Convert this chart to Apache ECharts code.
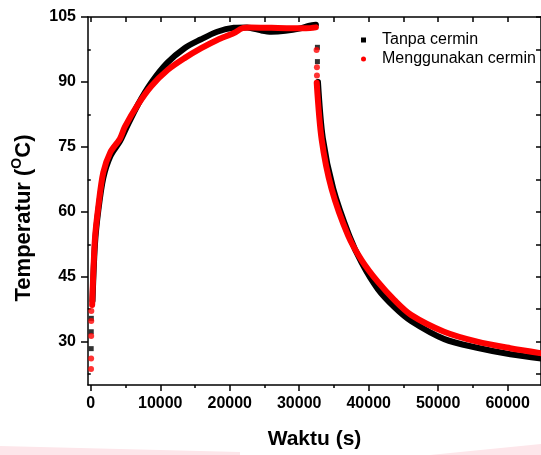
<!DOCTYPE html>
<html>
<head>
    <meta charset="UTF-8">
    <title>Temperatur vs Waktu</title>
    <script src="https://cdn.jsdelivr.net/npm/echarts@6/dist/echarts.min.js"></script>
    <style>
        html, body { margin: 0; padding: 0; background: #fff; }
    </style>
</head>
<body>
<div id="chart" style="width: 541px;height:455px;"></div>

<script type="text/javascript">
    // tick positions
    var xLabels = [0, 10000, 20000, 30000, 40000, 50000, 60000];
    var xMinor = [5000, 15000, 25000, 35000, 45000, 55000];
    var yLabels = [30, 45, 60, 75, 90, 105];
    var yMinor = [22.5, 37.5, 52.5, 67.5, 82.5, 97.5];

    // Tanpa cermin (hitam)
    var blackHeat = [
        [250, 39.5], [600, 52.5], [1100, 60.5], [1800, 67.8], [2800, 72.8], [4200, 76.3],
        [5000, 79.0], [6800, 84.8], [8700, 89.8], [11000, 94.4], [13500, 97.8], [15800, 99.8],
        [18200, 101.6], [20600, 102.5], [22500, 102.6], [24500, 101.9], [26000, 101.6],
        [28000, 101.8], [30000, 102.3], [31500, 103.0], [32400, 103.2]
    ];
    var blackCool = [
        [32700, 90.0], [33400, 77.0], [34900, 65.3], [37200, 54.5], [39000, 48.2], [41300, 42.2],
        [43700, 38.0], [46100, 34.8], [50900, 30.6], [55600, 28.6], [60400, 27.1], [65000, 26.1]
    ];
    var blackDots = [[60, 28.4], [70, 32.3], [80, 35.4], [32620, 98.0], [32620, 94.7]];

    // Menggunakan cermin (merah)
    var redHeat = [
        [200, 38.5], [600, 53.8], [1100, 61.4], [1800, 69.1], [2800, 73.7], [4200, 76.9],
        [4900, 79.6], [6800, 84.8], [8700, 89.0], [11100, 92.8], [13500, 95.5], [15900, 97.8],
        [18200, 99.7], [20600, 101.3], [21800, 102.4], [23000, 102.6], [26000, 102.5],
        [29000, 102.4], [31000, 102.4], [32400, 102.6]
    ];
    var redCool = [
        [32520, 89.8], [33230, 76.7], [34660, 65.3], [37040, 54.5], [39000, 48.8], [41330, 43.8],
        [43710, 39.6], [46090, 36.2], [50860, 32.3], [55620, 30.0], [60370, 28.5], [65000, 27.3]
    ];
    var redDots = [[40, 23.7], [50, 26.1], [60, 31.3], [70, 34.8], [80, 37.1],
        [32500, 97.4], [32550, 93.4], [32550, 91.5]];

    var fontMain = 'Liberation Sans, Arial, sans-serif';
    var plain = function (v) { return String(v); };

    var chart = echarts.init(document.getElementById('chart'), null, {renderer: 'canvas'});

    var option = {
        backgroundColor: '#fff',
        animation: false,
        graphic: [
            {type: 'polygon', shape: {points: [[0, 446], [240, 452], [240, 455], [0, 455]]},
                style: {fill: '#fde6ea'}, z: -1},
            {type: 'polygon', shape: {points: [[430, 455], [541, 444], [541, 455]]},
                style: {fill: '#fde6ea'}, z: -1}
        ],
        grid: {left: 88, top: 17, width: 456, height: 370},
        legend: {
            orient: 'vertical',
            left: 356,
            top: 27,
            itemWidth: 5,
            itemHeight: 5,
            itemGap: 3,
            textStyle: {fontFamily: fontMain, fontSize: 16, color: '#000', padding: [0, 0, 0, 11]},
            data: [
                {name: 'Tanpa cermin', icon: 'rect'},
                {name: 'Menggunakan cermin', icon: 'circle'}
            ]
        },
        xAxis: [
            {
                type: 'value', min: -400, max: 64800, position: 'bottom',
                name: 'Waktu (s)', nameLocation: 'middle', nameGap: 44,
                nameTextStyle: {fontFamily: fontMain, fontWeight: 'bold', fontSize: 21, color: '#000'},
                axisLine: {onZero: false, lineStyle: {color: '#000', width: 1.5}},
                axisTick: {show: true, inside: false, length: 6, customValues: xLabels, lineStyle: {color: '#000', width: 1.5}},
                axisLabel: {customValues: xLabels, formatter: plain, margin: 11, fontFamily: fontMain, fontWeight: 'bold', fontSize: 16, color: '#000'},
                splitLine: {show: false}
            },
            {
                type: 'value', min: -400, max: 64800, position: 'bottom',
                axisLine: {show: false},
                axisTick: {show: true, length: 3, customValues: xMinor, lineStyle: {color: '#000', width: 1.5}},
                axisLabel: {show: false},
                splitLine: {show: false}
            },
            {
                type: 'value', min: -400, max: 64800, position: 'top',
                axisLine: {onZero: false, lineStyle: {color: '#000', width: 1.5}},
                axisTick: {show: true, inside: true, length: 5, customValues: xLabels.concat(xMinor), lineStyle: {color: '#000', width: 1.5}},
                axisLabel: {show: false},
                splitLine: {show: false}
            }
        ],
        yAxis: [
            {
                type: 'value', min: 20, max: 105, position: 'left',
                name: 'Temperatur ({s|O}C)', nameLocation: 'middle', nameGap: 46, nameRotate: 90,
                nameTextStyle: {
                    fontFamily: fontMain, fontWeight: 'bold', fontSize: 22, color: '#000', lineHeight: 28,
                    padding: [0, 34, 0, 0],
                    rich: {
                        s: {fontFamily: fontMain, fontWeight: 'bold', fontSize: 14, color: '#000', verticalAlign: 'top', lineHeight: 28}
                    }
                },
                axisLine: {onZero: false, lineStyle: {color: '#000', width: 1.5}},
                axisTick: {show: true, inside: false, length: 7, customValues: yLabels, lineStyle: {color: '#000', width: 1.5}},
                axisLabel: {customValues: yLabels, formatter: plain, margin: 12, fontFamily: fontMain, fontWeight: 'bold', fontSize: 16, color: '#000'},
                splitLine: {show: false}
            },
            {
                type: 'value', min: 20, max: 105, position: 'left',
                axisLine: {show: false},
                axisTick: {show: true, length: 3, customValues: yMinor, lineStyle: {color: '#000', width: 1.5}},
                axisLabel: {show: false},
                splitLine: {show: false}
            },
            {
                type: 'value', min: 20, max: 105, position: 'right',
                axisLine: {onZero: false, lineStyle: {color: '#000', width: 1.5}},
                axisTick: {show: true, inside: true, length: 5, customValues: yLabels.concat(yMinor), lineStyle: {color: '#000', width: 1.5}},
                axisLabel: {show: false},
                splitLine: {show: false}
            }
        ],
        series: [
            {
                name: 'Tanpa cermin', type: 'line', smooth: 0.3, showSymbol: false,
                color: '#000', lineStyle: {color: '#000', width: 6, cap: 'round'},
                data: blackHeat.concat([[null, null]], blackCool), connectNulls: false
            },
            {
                name: 'Tanpa cermin', type: 'scatter', symbol: 'rect', symbolSize: 5,
                itemStyle: {color: '#000'}, data: blackDots
            },
            {
                name: 'Menggunakan cermin', type: 'line', smooth: 0.3, showSymbol: false,
                color: '#f00', lineStyle: {color: '#f00', width: 6, cap: 'round'},
                data: redHeat.concat([[null, null]], redCool), connectNulls: false
            },
            {
                name: 'Menggunakan cermin', type: 'scatter', symbol: 'circle', symbolSize: 6,
                itemStyle: {color: '#f00'}, data: redDots
            }
        ]
    };

    chart.setOption(option);
</script>
</body>
</html>
